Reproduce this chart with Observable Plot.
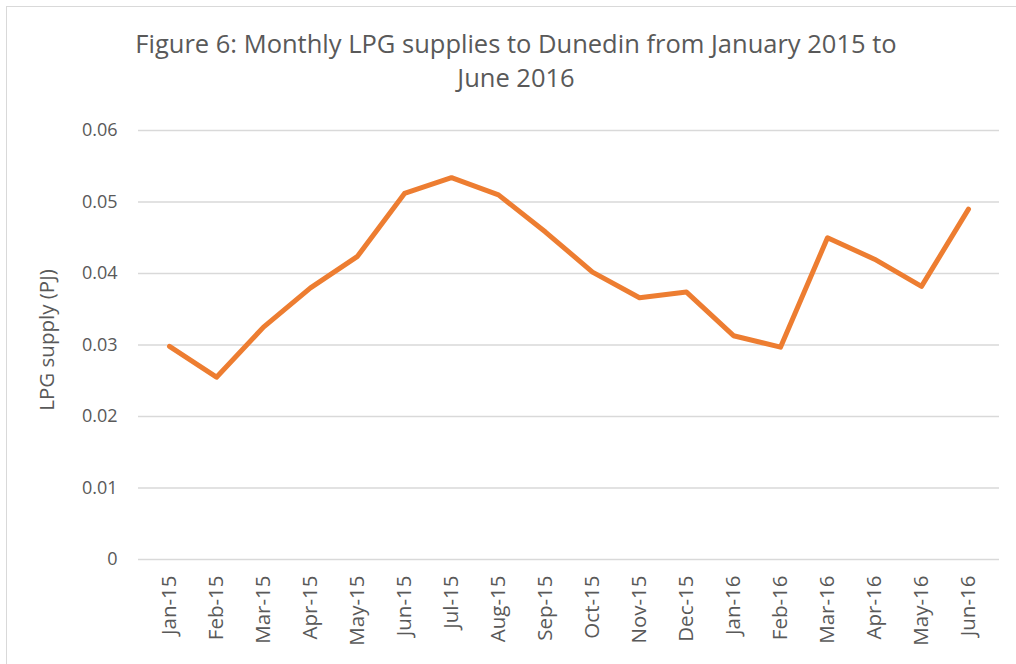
<!DOCTYPE html>
<html>
<head>
<meta charset="utf-8">
<script src="https://cdn.jsdelivr.net/npm/d3@7"></script>
<script src="https://cdn.jsdelivr.net/npm/@observablehq/plot@0.6"></script>
<style>
  html, body { margin: 0; padding: 0; background: #fff; }
  #wrap { position: relative; width: 1016px; height: 664px; overflow: hidden; background: #fff; font-family: "Open Sans", sans-serif; }
  #frame { position: absolute; left: 6px; top: 6px; width: 1030px; height: 680px; border: 1px solid #d9d9d9; box-sizing: border-box; }
  #title { position: absolute; left: 16px; width: 1000px; top: 26px; text-align: center; color: #595959; font-size: 25.5px; line-height: 34px; }
  #chart { position: absolute; left: 0; top: 110px; }
</style>
</head>
<body>
<div id="wrap">
  <div id="frame"></div>
  <div id="title">Figure 6: Monthly LPG supplies to Dunedin from January 2015 to<br>June 2016</div>
  <div id="chart"></div>
</div>
<script>
const months = ["Jan-15","Feb-15","Mar-15","Apr-15","May-15","Jun-15","Jul-15","Aug-15","Sep-15","Oct-15","Nov-15","Dec-15","Jan-16","Feb-16","Mar-16","Apr-16","May-16","Jun-16"];
const supply = [0.0298,0.0255,0.0325,0.0380,0.0424,0.0512,0.0534,0.0510,0.0458,0.0402,0.0366,0.0374,0.0313,0.0297,0.0450,0.0420,0.0382,0.0490];
const yTicks = [0,0.01,0.02,0.03,0.04,0.05,0.06];
const yLabel = "LPG supply (PJ)";

const data = months.map((m, i) => ({month: m, value: supply[i]}));

const chart = Plot.plot({
  width: 1016,
  height: 554,
  marginTop: 20,
  marginBottom: 105,
  marginLeft: 138,
  marginRight: 17,
  style: {fontFamily: "Open Sans", fontSize: "18px", color: "#595959", background: "transparent"},
  x: {type: "point", domain: months, padding: 0.5},
  y: {domain: [0, 0.06]},
  marks: [
    Plot.ruleY(yTicks, {stroke: "#d9d9d9", strokeWidth: 1.5}),
    Plot.axisY({ticks: yTicks, tickSize: 0, tickPadding: 21, label: null, fontSize: 18, tickFormat: d => d === 0 ? "0" : d.toFixed(2)}),
    Plot.axisX({tickRotate: -90, tickSize: 0, tickPadding: 16, label: null, fontSize: 20.5}),
    Plot.line(data, {x: "month", y: "value", stroke: "#ED7D31", strokeWidth: 5, strokeLinejoin: "round", strokeLinecap: "round"}),
    Plot.text([yLabel], {frameAnchor: "left", textAnchor: "middle", dx: -91, dy: -5, rotate: -90, fontSize: 20.5, fill: "#595959"})
  ]
});
document.getElementById("chart").appendChild(chart);
</script>
</body>
</html>
